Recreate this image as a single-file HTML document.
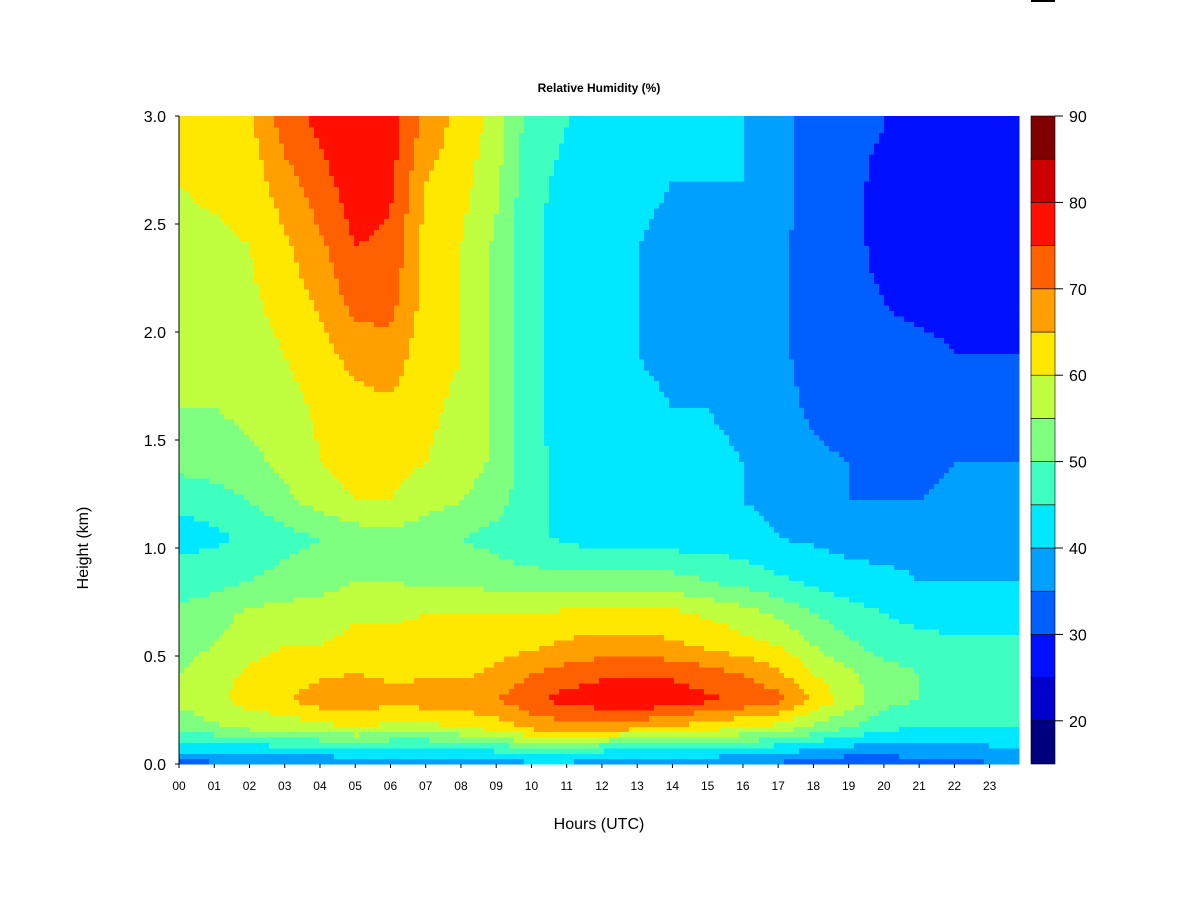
<!DOCTYPE html>
<html><head><meta charset="utf-8"><style>
body{margin:0;background:#fff;}
svg{display:block;font-family:"Liberation Sans",sans-serif;}
</style></head><body>
<svg id="chart" width="1200" height="900">
<rect x="1031" y="0" width="24" height="2" fill="#000"/>
<g id="plot"></g>
<g id="cbar"></g>
<g id="axes"></g>
<text x="599" y="92" text-anchor="middle" font-size="12" font-weight="bold">Relative Humidity (%)</text>
<text x="599" y="829" text-anchor="middle" font-size="16">Hours (UTC)</text>
<text x="88" y="548" text-anchor="middle" font-size="16" transform="rotate(-90 88 548)">Height (km)</text>
</svg>
<script>
const levels=[15,20,25,30,35,40,45,50,55,60,65,70,75,80,85,90];
const colors=["#00007F","#0000CC","#0010FF","#0060FF","#00A0FF","#00E8FF","#3FFFC0","#7FFF7F","#C0FF3F","#FFE800","#FFA000","#FF6000","#FF1000","#CC0000","#800000"];
const hours=[0,1,2,3,4,5,6,7,8,9,10,11,12,13,14,15,16,17,18,19,20,21,22,23];
const heightsKm=[0.01,0.07,0.17,0.3,0.42,0.55,0.7,0.85,1.05,1.22,1.4,1.65,1.9,2.15,2.4,2.7,2.95];
const rh=[
"33 35 35 36 36 37 37 37 38 38 40 40 38 37 37 37 36 35 33 32 32 33 34 35",
"41 42 42 43 44 45 44 44 45 46 50 48 46 45 44 44 44 42 40 38 38 38 38 39",
"52 54 56 57 58 60 58 58 60 62 66 68 68 66 64 62 60 58 54 50 46 45 45 45",
"56 59 62 64 68 69 67 68 68 70 74 77 78 80 78 76 74 72 64 58 52 50 48 46",
"55 58 61 63 64 65 64 64 64 66 70 72 74 74 74 72 70 66 60 56 52 50 48 48",
"53 55 58 60 60 62 62 62 62 63 64 66 67 67 66 64 62 60 55 51 48 47 46 46",
"51 53 56 57 57 59 59 60 60 60 60 61 62 62 61 59 57 54 50 47 45 43 43 43",
"48 48 50 52 53 55 55 54 54 53 52 52 52 52 52 50 48 46 44 42 42 40 40 40",
"43 44 46 48 50 52 53 52 50 48 46 44 42 42 42 42 42 40 39 38 37 37 38 39",
"46 47 50 54 57 60 60 57 55 52 47 43 42 41 41 41 40 39 37 35 35 35 36 37",
"52 53 54 56 60 62 62 60 58 54 46 44 42 41 41 41 40 38 36 35 34 34 35 35",
"55 55 56 58 61 63 64 61 59 54 46 43 42 41 40 40 39 37 34 33 32 32 32 33",
"57 57 58 60 63 67 68 62 60 54 46 43 42 40 39 39 38 36 33 32 31 31 30 30",
"58 58 59 62 66 72 72 63 60 54 46 43 41 40 39 39 38 36 32 31 30 29 29 29",
"59 59 60 64 69 75 74 63 60 54 46 43 41 40 39 39 39 36 33 31 29 28 28 28",
"60 61 62 68 73 78 76 65 62 56 46 44 42 41 40 40 40 37 33 31 29 28 28 28",
"61 63 64 72 76 80 78 68 63 58 47 45 43 42 42 41 40 37 33 31 30 29 28 28"
].map(r=>r.split(" ").map(Number));
const yTicks=[0,0.5,1,1.5,2,2.5,3];
const xTickLabels=["00","01","02","03","04","05","06","07","08","09","10","11","12","13","14","15","16","17","18","19","20","21","22","23"];
const cbTicks=[20,30,40,50,60,70,80,90];

const X0=179,X1=1019,Y0=764,Y1=116,HMAX=23.833,KMAX=3;
const xs=h=>X0+h/HMAX*(X1-X0);
const ys=k=>Y0-k/KMAX*(Y0-Y1);
const NS="http://www.w3.org/2000/svg";
function mk(t,a,p){const e=document.createElementNS(NS,t);for(const k in a)e.setAttribute(k,a[k]);p.appendChild(e);return e;}
function col(v){for(let i=colors.length-1;i>=0;i--)if(v>=levels[i])return colors[i];return colors[0];}
function seg(arr,v){if(v<=arr[0])return[0,0,0];const n=arr.length-1;if(v>=arr[n])return[n,n,0];let i=0;while(arr[i+1]<v)i++;return[i,i+1,(v-arr[i])/(arr[i+1]-arr[i])];}
function val(h,k){const[a,b,t]=seg(hours,h),[c,d,u]=seg(heightsKm,k);
  const v1=rh[c][a]*(1-t)+rh[c][b]*t,v2=rh[d][a]*(1-t)+rh[d][b]*t;return v1*(1-u)+v2*u;}
const plot=document.getElementById('plot');
const NC=168,NR=120;
for(let r=0;r<NR;r++){
  const k0=r*KMAX/NR,k1=(r+1)*KMAX/NR,km=(k0+k1)/2;
  let start=0,cur=null;
  for(let c=0;c<=NC;c++){
    let cc=null;
    if(c<NC){const h=(c+0.5)*HMAX/NC;cc=col(val(h,km));}
    if(cc!==cur){
      if(cur!==null){
        const x0=xs(start*HMAX/NC),x1=xs(c*HMAX/NC);
        const e=mk('rect',{x:x0,y:ys(k1),width:x1-x0+0.6,height:ys(k0)-ys(k1)+0.6,fill:cur,'shape-rendering':'crispEdges'},plot);
        
        
      }
      cur=cc;start=c;
    }
  }
}
const ax=document.getElementById('axes');
mk('line',{x1:X0,y1:Y1,x2:X0,y2:Y0,stroke:'#000'},ax);
yTicks.forEach(t=>{
  const y=ys(t);
  mk('line',{x1:X0-4,y1:y,x2:X0,y2:y,stroke:'#000'},ax);
  const e=mk('text',{x:X0-13,y:y+6,'text-anchor':'end','font-size':16},ax);
  e.textContent=t.toFixed(1);
  
  
});
xTickLabels.forEach((l,i)=>{
  const x=xs(i);
  mk('line',{x1:x,y1:Y0,x2:x,y2:Y0+4,stroke:'#000'},ax);
  const e=mk('text',{x:x,y:Y0+26,'text-anchor':'middle','font-size':12},ax);
  e.textContent=l;
  
  
});
const cb=document.getElementById('cbar');
const CX=1031,CW=24;
const cy=v=>Y0-(v-15)/75*(Y0-Y1);
colors.forEach((c,i)=>{
  const e=mk('rect',{x:CX,y:cy(levels[i+1]),width:CW,height:cy(levels[i])-cy(levels[i+1]),fill:c,stroke:'#000','stroke-width':0.6},cb);
  
  
});
cbTicks.forEach(t=>{
  const y=cy(t);
  mk('line',{x1:CX+CW,y1:y,x2:CX+CW+8,y2:y,stroke:'#000'},cb);
  const e=mk('text',{x:CX+CW+14,y:y+6,'font-size':16},cb);
  e.textContent=t;
  
  
});
</script>
</body></html>
